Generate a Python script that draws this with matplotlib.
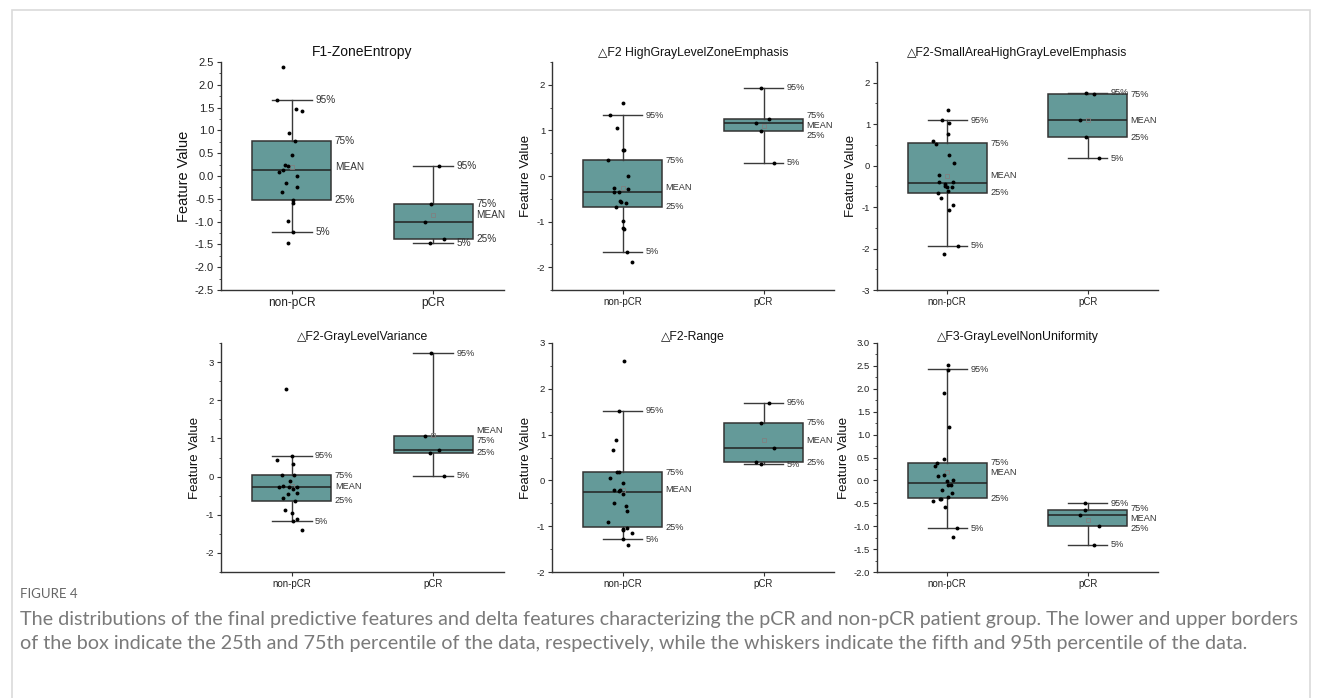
import numpy as np
import matplotlib
matplotlib.use("Agg")
import matplotlib.pyplot as plt
from matplotlib.ticker import MultipleLocator, FormatStrFormatter
from matplotlib.patches import Rectangle

plt.rcParams["font.family"] = ["Liberation Sans", "DejaVu Sans"]

# --- data ---
groups = ["non-pCR", "pCR"]
titles = [
    "F1-ZoneEntropy",
    "\u25b3F2 HighGrayLevelZoneEmphasis",
    "\u25b3F2-SmallAreaHighGrayLevelEmphasis",
    "\u25b3F2-GrayLevelVariance",
    "\u25b3F2-Range",
    "\u25b3F3-GrayLevelNonUniformity",
]

# box stats per panel: [5%, 25%, median, mean, 75%, 95%]
nonpcr_box = [
    [-1.22, -0.52, 0.13, 0.19, 0.76, 1.66],
    [-1.66, -0.67, -0.36, -0.255, 0.35, 1.33],
    [-1.93, -0.66, -0.42, -0.24, 0.54, 1.10],
    [-1.17, -0.63, -0.27, -0.25, 0.035, 0.54],
    [-1.285, -1.02, -0.255, -0.20, 0.175, 1.52],
    [-1.05, -0.39, -0.05, 0.19, 0.37, 2.43],
]
pcr_box = [
    [-1.465, -1.385, -1.005, -0.85, -0.62, 0.22],
    [0.29, 0.99, 1.155, 1.10, 1.26, 1.94],
    [0.18, 0.68, 1.09, 1.09, 1.72, 1.76],
    [0.02, 0.63, 0.69, 1.10, 1.06, 3.23],
    [0.35, 0.40, 0.71, 0.88, 1.26, 1.70],
    [-1.41, -0.995, -0.755, -0.864, -0.64, -0.50],
]

# individual patients (values) and their horizontal jitter as drawn
nonpcr_values = [
    [2.39, 1.66, 1.46, 1.42, 0.94, 0.76, 0.45, 0.25, 0.23, 0.14, 0.08, 0.0,
     -0.16, -0.24, -0.34, -0.53, -0.60, -0.99, -1.22, -1.46],
    [1.60, 1.33, 1.05, 0.58, 0.56, 0.36, 0.0, -0.26, -0.28, -0.35, -0.36,
     -0.55, -0.56, -0.60, -0.67, -0.99, -1.15, -1.17, -1.66, -1.89],
    [1.34, 1.09, 1.04, 0.76, 0.59, 0.53, 0.25, 0.07, -0.23, -0.40, -0.44,
     -0.49, -0.51, -0.40, -0.52, -0.60, -0.66, -0.77, -0.94, -1.06, -1.93, -2.12],
    [2.29, 0.44, 0.54, 0.33, 0.035, 0.035, -0.105, -0.25, -0.26, -0.28, -0.26,
     -0.33, -0.45, -0.42, -0.55, -0.63, -0.88, -0.96, -1.11, -1.17, -1.40],
    [2.60, 1.52, 0.88, 0.67, 0.18, 0.175, 0.06, -0.066, -0.20, -0.20, -0.23,
     -0.30, -0.49, -0.55, -0.66, -0.90, -1.03, -1.07, -1.09, -1.15, -1.285, -1.42],
    [2.53, 2.42, 1.90, 1.16, 0.46, 0.37, 0.32, 0.12, 0.09, -0.015, 0.0, -0.095,
     -0.095, -0.22, -0.28, -0.40, -0.41, -0.37, -0.46, -0.57, -1.05, -1.235],
]
nonpcr_jitter = [
    [-0.063, -0.106, 0.03, 0.07, -0.016, 0.023, 0.0, -0.047, -0.023, -0.063,
     -0.089, 0.038, -0.042, 0.035, -0.068, 0.007, 0.012, -0.028, 0.007, -0.028],
    [0.005, -0.089, -0.04, 0.005, 0.01, -0.10, 0.04, -0.063, 0.038, -0.063,
     -0.023, -0.016, -0.012, 0.028, -0.049, 0.005, 0.005, 0.009, 0.035, 0.07],
    [0.007, -0.035, 0.012, 0.007, -0.099, -0.082, 0.014, 0.047, -0.059, -0.059,
     -0.016, -0.014, -0.005, 0.042, 0.033, 0.007, -0.066, -0.042, 0.04, 0.012,
     0.075, -0.021],
    [-0.04, -0.103, 0.002, 0.009, -0.068, 0.014, -0.014, -0.061, -0.021, -0.089,
     0.038, 0.007, -0.026, 0.038, -0.061, 0.026, -0.047, 0.002, 0.035, 0.009, 0.073],
    [0.009, -0.023, -0.047, -0.066, -0.042, -0.023, -0.087, 0.0, -0.063, -0.019,
     -0.028, 0.005, -0.063, 0.028, 0.035, -0.10, 0.035, 0.005, 0.0, 0.07, 0.007, 0.038],
    [0.008, 0.008, -0.023, 0.011, -0.02, -0.07, -0.089, -0.025, -0.063, 0.001,
     0.039, 0.004, 0.03, -0.039, 0.037, -0.055, -0.044, 0.008, -0.103, -0.013,
     0.072, 0.041],
]
pcr_values = [
    [0.22, -0.62, -1.0, -1.39, -1.47],
    [1.94, 1.26, 1.16, 0.98, 0.29],
    [1.76, 1.72, 1.09, 0.68, 0.18],
    [3.23, 1.07, 0.63, 0.69, 0.02],
    [1.70, 1.26, 0.71, 0.40, 0.35],
    [-0.50, -0.64, -0.755, -0.995, -1.415],
]
pcr_jitter = [
    [0.038, -0.019, -0.061, 0.073, -0.023],
    [-0.016, 0.042, -0.056, -0.019, 0.077],
    [-0.014, 0.047, -0.054, -0.014, 0.08],
    [-0.019, -0.061, -0.021, 0.04, 0.077],
    [0.04, -0.019, 0.077, -0.056, -0.016],
    [-0.017, -0.017, -0.057, 0.078, 0.043],
]

ylims = [(-2.5, 2.5), (-2.5, 2.5), (-3, 2.5), (-2.5, 3.5), (-2, 3), (-2, 3)]
major_steps = [0.5, 1, 1, 1, 1, 0.5]

caption_head = "FIGURE 4"
caption_lines = [
    "The distributions of the final predictive features and delta features characterizing the pCR and non-pCR patient group. The lower and upper borders",
    "of the box indicate the 25th and 75th percentile of the data, respectively, while the whiskers indicate the fifth and 95th percentile of the data.",
]

# --- figure ---
W, H = 1322, 698
fig = plt.figure(figsize=(W / 100, H / 100), dpi=100)
fig.patch.set_facecolor("white")

# light frame around the figure
fig.add_artist(Rectangle((12 / W, -0.02), (1310 - 12) / W, 1.02 - 10 / H,
                         transform=fig.transFigure, fill=False,
                         edgecolor="#dadada", lw=1.2))

lefts = [221, 552, 877]
rights = [504, 834, 1158]
tops = [62, 343]
bottoms = [290, 572]
title_pads = [4, 1.5]

box_color = "#649a99"
edge = "#333333"
positions = [1, 2]
width = 0.56
capw = 0.28


def spread(vals, gap):
    # push box labels apart so they don't sit on top of each other
    ys = list(vals)
    for _ in range(60):
        for j in range(len(ys) - 1):
            d = ys[j] - ys[j + 1]
            if d < gap:
                m = (gap - d) / 2
                ys[j] += m
                ys[j + 1] -= m
    return ys


for i in range(6):
    r, c = divmod(i, 3)
    ax = fig.add_axes([lefts[c] / W, 1 - bottoms[r] / H,
                       (rights[c] - lefts[c]) / W, (bottoms[r] - tops[r]) / H])
    boxes = [nonpcr_box[i], pcr_box[i]]
    stats = []
    for b in boxes:
        lo, q1, med, mean, q3, hi = b
        stats.append(dict(whislo=lo, q1=q1, med=med, mean=mean, q3=q3,
                          whishi=hi, fliers=[]))
    ax.bxp(stats, positions=positions, widths=width, capwidths=capw,
           showmeans=True, patch_artist=True,
           boxprops=dict(facecolor=box_color, edgecolor=edge, lw=1.1),
           medianprops=dict(color="#222222", lw=1.1),
           whiskerprops=dict(color="#3a3a3a", lw=1.0),
           capprops=dict(color="#3a3a3a", lw=1.0),
           meanprops=dict(marker="s", markerfacecolor="none",
                          markeredgecolor="#808080", markersize=3, mew=0.6))

    for pos, vals, jit in [(1, nonpcr_values[i], nonpcr_jitter[i]),
                           (2, pcr_values[i], pcr_jitter[i])]:
        ax.plot(pos + np.array(jit), vals, "o", color="black", ms=2.8,
                mew=0, zorder=5)

    ylo, yhi = ylims[i]
    ax.set_ylim(ylo, yhi)
    ax.set_xlim(0.5, 2.5)
    ppu = (bottoms[r] - tops[r]) / (yhi - ylo)
    big = i == 0
    lab_fs = 7.2 if big else 6.6
    for pos, b in zip(positions, boxes):
        lo, q1, med, mean, q3, hi = b
        ax.text(pos + capw / 2 + 0.025, hi, "95%", va="center",
                fontsize=lab_fs, color="#333333")
        ax.text(pos + capw / 2 + 0.025, lo, "5%", va="center",
                fontsize=lab_fs, color="#333333")
        items = sorted([(q3, "75%"), (mean, "MEAN"), (q1, "25%")],
                       key=lambda t: -t[0])
        ys = spread([t[0] for t in items], 10 / ppu)
        for y, (_, txt) in zip(ys, items):
            ax.text(pos + width / 2 + 0.025, y, txt, va="center",
                    fontsize=lab_fs, color="#333333")

    ax.yaxis.set_major_locator(MultipleLocator(major_steps[i]))
    ax.yaxis.set_minor_locator(MultipleLocator(major_steps[i] / 2))
    if major_steps[i] == 0.5:
        ax.yaxis.set_major_formatter(FormatStrFormatter("%.1f"))
    else:
        ax.yaxis.set_major_formatter(FormatStrFormatter("%d"))
    ax.set_xticks(positions)
    ax.set_xticklabels(groups)
    for s in ["top", "right"]:
        ax.spines[s].set_visible(False)
    for s in ["left", "bottom"]:
        ax.spines[s].set_color("#333333")
        ax.spines[s].set_linewidth(1.0)
    ax.tick_params(axis="both", which="major", direction="out", length=3,
                   width=0.8, color="#333333", labelsize=8 if big else 6.8,
                   pad=2, labelcolor="#222222")
    ax.tick_params(axis="y", which="minor", direction="out", length=1.8,
                   width=0.6, color="#333333")
    ax.tick_params(axis="x", labelsize=8.6 if big else 7)
    ax.set_title(titles[i], fontsize=10 if big else 8.8, pad=title_pads[r],
                 color="#111111")
    ax.set_ylabel("Feature Value", fontsize=10.5 if big else 9.5,
                  labelpad=3, color="#111111")

# caption (narrowish sans, sized so the first line spans the frame)
cap_family = ["Lato", "DejaVu Sans"]
fig.text(20 / W, 1 - 594 / H, caption_head, fontsize=9.5, color="#666666",
         family=cap_family, va="center")
t1 = fig.text(20 / W, 1 - 620 / H, caption_lines[0], fontsize=12,
              color="#7a7a7a", family=cap_family, va="center")
t2 = fig.text(20 / W, 1 - 643 / H, caption_lines[1], fontsize=12,
              color="#7a7a7a", family=cap_family, va="center")
rend = fig.canvas.get_renderer()
w1 = t1.get_window_extent(rend).width
fs = 12 * (1296 - 20) / w1
t1.set_fontsize(fs)
t2.set_fontsize(fs)

fig.savefig("out.png", dpi=100)
